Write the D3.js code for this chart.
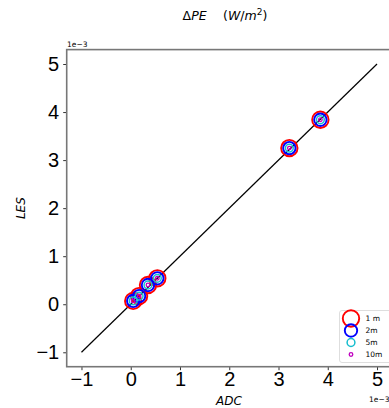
<!DOCTYPE html>
<html>
<head>
<meta charset="utf-8">
<script src="https://cdn.jsdelivr.net/npm/d3@7"></script>
<style>
  body { margin: 0; background: white; }
  svg { font-family: 'DejaVu Sans', sans-serif; }
</style>
</head>
<body>
<svg id="chart" width="389" height="408"></svg>
<script>
// Datos (unidades de 1e-3)
const adc = [0.05, 0.17, 0.35, 0.54, 3.22, 3.85]
const les1m = [0.07, 0.17, 0.40, 0.54, 3.25, 3.84]
const les2m = [0.07, 0.17, 0.40, 0.54, 3.25, 3.84]
const les5m = [0.07, 0.17, 0.40, 0.54, 3.25, 3.84]
const les10m = [0.07, 0.17, 0.40, 0.54, 3.25, 3.84]
const seriesNames = ['1 m', '2m', '5m', '10m']
const tickValues = [-1, 0, 1, 2, 3, 4, 5]
const diagonal = [-1, 5]

const svg = d3.select('#chart')

const xScale = d3.scaleLinear().domain([-1.3, 5.3]).range([66.7, 391.8])
const yScale = d3.scaleLinear().domain([-1.3, 5.3]).range([366.7, 49.6])

const series = [
  { name: seriesNames[0], y: les1m, color: 'red', r: 8.2, sw: 1.9 },
  { name: seriesNames[1], y: les2m, color: 'blue', r: 6.2, sw: 1.9 },
  { name: seriesNames[2], y: les5m, color: '#17becf', r: 3.9, sw: 1.5 },
  { name: seriesNames[3], y: les10m, color: '#bf00bf', r: 1.8, sw: 1.3 }
]

const minus = d => d3.format('d')(d).replace('-', '\u2212')

// Ejes
const yAxis = svg.append('g')
  .attr('transform', `translate(${xScale.range()[0]},0)`)
  .call(d3.axisLeft(yScale).tickValues(tickValues).tickFormat(minus).tickSize(3.5).tickPadding(4))
yAxis.selectAll('text').style('font-size', '20px').attr('fill', 'black')

const xAxis = svg.append('g')
  .attr('transform', `translate(0,${yScale.range()[0]})`)
  .call(d3.axisBottom(xScale).tickValues(tickValues).tickFormat(minus).tickSize(3.5).tickPadding(2))
xAxis.selectAll('text').style('font-size', '20px').attr('fill', 'black')

svg.selectAll('.domain').remove()
svg.selectAll('.tick line').attr('stroke', '#333')

// Marco
svg.append('rect')
  .attr('x', xScale.range()[0])
  .attr('y', yScale.range()[1])
  .attr('width', xScale.range()[1] - xScale.range()[0])
  .attr('height', yScale.range()[0] - yScale.range()[1])
  .attr('fill', 'none')
  .attr('stroke', '#777')
  .attr('stroke-width', 1.6)

// Linea 1:1
svg.append('line')
  .attr('x1', xScale(diagonal[0])).attr('y1', yScale(diagonal[0]))
  .attr('x2', xScale(diagonal[1])).attr('y2', yScale(diagonal[1]))
  .attr('stroke', 'black')
  .attr('stroke-width', 1.2)

// Puntos
series.forEach(s => {
  svg.append('g').selectAll('circle')
    .data(adc.map((x, i) => ({ x, y: s.y[i] })))
    .enter().append('circle')
      .attr('cx', d => xScale(d.x))
      .attr('cy', d => yScale(d.y))
      .attr('r', s.r)
      .attr('fill', 'none')
      .attr('stroke', s.color)
      .attr('stroke-width', s.sw)
})

// Textos
const title = svg.append('text')
  .attr('x', 225).attr('y', 20)
  .attr('text-anchor', 'middle')
  .attr('xml:space', 'preserve')
  .style('font-size', '12.5px')
title.append('tspan').text('\u0394')
title.append('tspan').style('font-style', 'italic').text('PE')
title.append('tspan').text('\u2003 (')
title.append('tspan').style('font-style', 'italic').text('W')
title.append('tspan').text('/')
title.append('tspan').style('font-style', 'italic').text('m')
title.append('tspan').attr('dy', -5).style('font-size', '9px').text('2')
title.append('tspan').attr('dy', 5).text(')')

svg.append('text')
  .attr('x', 67).attr('y', 47)
  .style('font-size', '7.5px')
  .text('1e\u22123')

svg.append('text')
  .attr('x', 369).attr('y', 402)
  .style('font-size', '7.5px')
  .text('1e\u22123')

svg.append('text')
  .attr('x', 229).attr('y', 405)
  .attr('text-anchor', 'middle')
  .style('font-size', '12px')
  .style('font-style', 'italic')
  .text('ADC')

svg.append('text')
  .attr('transform', `translate(25,${(yScale.range()[0] + yScale.range()[1]) / 2}) rotate(-90)`)
  .attr('text-anchor', 'middle')
  .style('font-size', '12px')
  .style('font-style', 'italic')
  .text('LES')

// Leyenda
const legend = svg.append('g').attr('transform', 'translate(339.5,310.5)')
legend.append('rect')
  .attr('width', 52).attr('height', 52)
  .attr('rx', 2.5)
  .attr('fill', 'white').attr('fill-opacity', 0.8)
  .attr('stroke', '#d6d6d6').attr('stroke-width', 0.8)

const legendY = d3.scalePoint().domain(seriesNames).range([8, 44])
series.forEach(s => {
  legend.append('circle')
    .attr('cx', 11.5).attr('cy', legendY(s.name))
    .attr('r', s.r).attr('fill', 'none')
    .attr('stroke', s.color).attr('stroke-width', s.sw)
  legend.append('text')
    .attr('x', 26).attr('y', legendY(s.name) + 2.5)
    .style('font-size', '7.5px')
    .text(s.name)
})
</script>
</body>
</html>
